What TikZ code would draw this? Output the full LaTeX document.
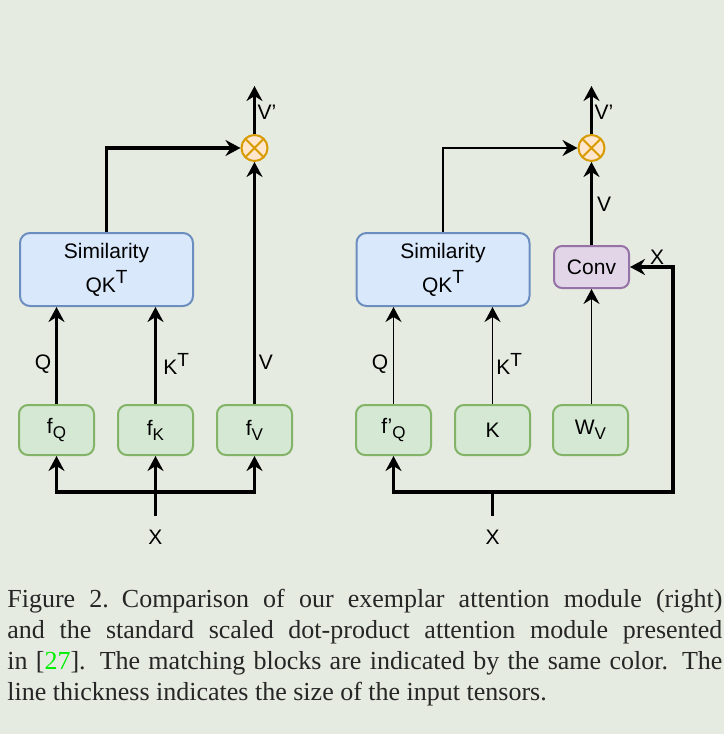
\documentclass[tikz,border=0pt]{standalone}
\usepackage{fontspec}
\setmainfont{Liberation Serif}
\setsansfont{Liberation Sans}
\usepackage{xcolor}
\usetikzlibrary{arrows.meta,positioning,calc}
\definecolor{paper}{HTML}{E6EBE1}
\definecolor{simfill}{HTML}{DAE8FC}
\definecolor{simline}{HTML}{6C8EBF}
\definecolor{projfill}{HTML}{D5E8D4}
\definecolor{projline}{HTML}{82B366}
\definecolor{convfill}{HTML}{E1D5E7}
\definecolor{convline}{HTML}{9673A6}
\definecolor{mulfill}{HTML}{FFE6CC}
\definecolor{mulline}{HTML}{D79B00}
\definecolor{citegreen}{HTML}{00EE00}
\newcommand{\lowsub}[1]{\raisebox{-0.45ex}{\fontsize{8.5}{8.5}\selectfont #1}}
\newcommand{\highsup}[1]{\raisebox{0.75ex}{\fontsize{9.5}{9.5}\selectfont #1}}

\begin{document}
\begin{tikzpicture}[
  x={(0.5pt,0)}, y={(0,-0.5pt)},
  font=\sffamily\fontsize{10.5}{13}\selectfont,
  >={Stealth[length=7.5pt,width=8pt,inset=2.5pt]},
  simbox/.style={
    draw=simline,
    fill=simfill,
    rounded corners=5pt,
    line width=1pt,
    minimum width=86.5pt,
    minimum height=36.5pt,
    align=center,
    inner sep=2pt
  },
  projbox/.style={
    draw=projline,
    fill=projfill,
    rounded corners=4.5pt,
    line width=1pt,
    minimum width=37.5pt,
    minimum height=25pt,
    inner sep=1pt
  },
  convbox/.style={
    draw=convline,
    fill=convfill,
    rounded corners=4pt,
    line width=1pt,
    minimum width=37.5pt,
    minimum height=21pt,
    inner sep=1pt
  },
  mulnode/.style={
    circle,
    draw=mulline,
    fill=mulfill,
    line width=1pt,
    minimum size=13pt,
    inner sep=0pt,
    path picture={
      \draw[mulline, line width=1pt]
        (path picture bounding box.north west) -- (path picture bounding box.south east)
        (path picture bounding box.north east) -- (path picture bounding box.south west);
    }
  },
  tag/.style={inner sep=1pt},
  fatlink/.style={->, line width=1.75pt},
  fatline/.style={line width=1.75pt},
  midlink/.style={->, line width=1.1pt},
  slimlink/.style={->, line width=0.75pt}
]

\path[use as bounding box, fill=paper] (0,0) rectangle (724,734);

% left: scaled dot-product attention
\node[simbox] (simL) at (106.5,269.5) {Similarity\\[4pt]QK\highsup{T}};
\node[projbox] (fQ) at (56.5,430) {f\lowsub{Q}};
\node[projbox] (fK) at (155.5,430) {f\lowsub{K}};
\node[projbox] (fV) at (254.5,430) {f\lowsub{V}};
\node[mulnode] (mulL) at (254.5,148) {};
\coordinate (outL) at (254.5,86);
\coordinate (busL) at (155.5,492);
\coordinate (inL) at (155.5,516);

\draw[fatlink] (inL) -- (fK.south);
\draw[fatlink] (busL) -| (fQ.south);
\draw[fatlink] (busL) -| (fV.south);
\draw[fatlink] (fQ.north) -- (fQ.north |- simL.south);
\draw[fatlink] (fK.north) -- (fK.north |- simL.south);
\draw[fatlink] (simL.north) |- (mulL.west);
\draw[fatlink] (fV.north) -- (mulL.south);
\draw[fatlink] (mulL.north) -- (outL);

\node[tag] (labQL) at (43,364) {Q};
\node[tag, anchor=west] (labKL) at (161,364) {K\highsup{T}};
\node[tag] (labVL) at (266,362) {V};
\node[tag] (labVpL) at (267,112) {V'};
\node[tag] (labXL) at (155.5,537) {X};

% right: exemplar attention
\node[simbox] (simR) at (443,269.5) {Similarity\\[4pt]QK\highsup{T}};
\node[projbox] (fQp) at (393.5,430) {f'\lowsub{Q}};
\node[projbox] (kB) at (492.5,430) {K};
\node[projbox] (wV) at (590.5,430) {W\lowsub{V}};
\node[convbox] (conv) at (591.5,267) {Conv};
\node[mulnode] (mulR) at (591.5,148) {};
\coordinate (outR) at (591.5,86);
\coordinate (busR) at (492.5,492);
\coordinate (bendR) at (673,492);
\coordinate (inR) at (492.5,516);

\draw[fatline] (inR) -- (busR);
\draw[fatlink] (busR) -| (fQp.south);
\draw[fatlink] (busR) -- (bendR) |- (conv.east);
\draw[slimlink] (fQp.north) -- (fQp.north |- simR.south);
\draw[slimlink] (kB.north) -- (kB.north |- simR.south);
\draw[slimlink] (wV.north -| conv.south) -- (conv.south);
\draw[midlink] (simR.north) |- (mulR.west);
\draw[fatlink] (conv.north) -- (mulR.south);
\draw[fatlink] (mulR.north) -- (outR);

\node[tag] (labQR) at (380,364) {Q};
\node[tag, anchor=west] (labKR) at (494,364) {K\highsup{T}};
\node[tag] (labVR) at (604,204) {V};
\node[tag] (labVpR) at (604,112) {V'};
\node[tag] (labXR) at (492.5,537) {X};
\node[tag] (labXc) at (657,257) {X};

% caption
\node[anchor=north west, inner sep=0pt, text width=357.5pt, align=justify,
      font=\rmfamily\fontsize{13}{15.5}\selectfont, text=black!85] (caption) at (7,589)
  {Figure 2.\enspace Comparison of our exemplar attention module (right)\linebreak
   and the standard scaled dot-product attention module presented\linebreak
   in [\textcolor{citegreen}{27}]. The matching blocks are indicated by the same color. The\linebreak
   line thickness indicates the size of the input tensors.};

\end{tikzpicture}
\end{document}
